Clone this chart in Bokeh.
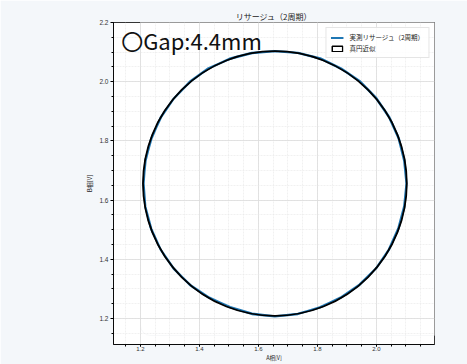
from bokeh.plotting import figure
from bokeh.models import (Range1d, SingleIntervalTicker, NumeralTickFormatter, Label,
                          BoxAnnotation, Legend, LegendItem, ColumnDataSource)
from bokeh.embed import file_html
from bokeh.resources import INLINE
import numpy as np

# ---- data ----
title_text = "リサージュ（2周期）"
x_label = "A相[V]"
y_label = "B相[V]"
gap_text = "〇Gap:4.4mm"
legend_measured = "実測リサージュ（2周期）"
legend_fit = "真円近似"

# fitted circle
fit_cx = 1.656
fit_cy = 1.656
fit_r = 0.447

# measured Lissajous: angle (deg) and radius for the two laps
angles_deg = [0, 10, 20, 30, 40, 50, 60, 70, 80, 90, 100, 110, 120, 130, 140, 150, 160, 170,
              180, 190, 200, 210, 220, 230, 240, 250, 260, 270, 280, 290, 300, 310, 320, 330,
              340, 350, 360]
r_lap1 = [0.446, 0.446, 0.447, 0.448, 0.449, 0.450, 0.449, 0.450, 0.448, 0.447, 0.447, 0.448,
          0.450, 0.449, 0.447, 0.446, 0.446, 0.445, 0.446, 0.446, 0.447, 0.447, 0.448, 0.447,
          0.445, 0.445, 0.448, 0.449, 0.448, 0.445, 0.446, 0.447, 0.447, 0.446, 0.445, 0.445,
          0.446]
r_lap2 = [0.446, 0.445, 0.446, 0.447, 0.448, 0.449, 0.448, 0.449, 0.448, 0.447, 0.448, 0.449,
          0.449, 0.448, 0.447, 0.447, 0.445, 0.446, 0.445, 0.446, 0.446, 0.447, 0.447, 0.448,
          0.446, 0.444, 0.446, 0.449, 0.447, 0.446, 0.445, 0.446, 0.447, 0.447, 0.446, 0.446,
          0.446]

x_range = (1.109, 2.197)
y_range = (1.112, 2.200)

# ---- build measured curve coordinates ----
ang = np.deg2rad(np.array(angles_deg + angles_deg[1:], dtype=float))
rad = np.array(r_lap1 + r_lap2[1:], dtype=float)
mx = fit_cx + rad * np.cos(ang)
my = fit_cy + rad * np.sin(ang)

FONT = "Noto Sans CJK JP"
TICK_FONT = "Liberation Sans"
PAGE_BG = "#f4f7fa"

p = figure(width=467, height=364, output_backend="svg", toolbar_location=None,
           x_range=Range1d(*x_range), y_range=Range1d(*y_range),
           min_border_left=113, min_border_right=33, min_border_top=22, min_border_bottom=19,
           background_fill_color="white", border_fill_color=PAGE_BG)

# card
card = BoxAnnotation(left=27, right=600, top=9, bottom=600,
                     left_units="screen", right_units="screen", top_units="screen", bottom_units="screen",
                     fill_color="white", fill_alpha=1.0, line_color="#e3e7ec", line_width=1,
                     border_radius=10, level="image", editable=False)
p.add_layout(card)

p.title.text = title_text
p.title.align = "center"
p.title.text_font = FONT
p.title.text_font_size = "8px"
p.title.text_font_style = "normal"
p.title.text_color = "#222222"
p.title.standoff = 2
p.title.offset = 0

p.outline_line_color = "black"
p.outline_line_width = 0.8

for ax in (p.xaxis[0], p.yaxis[0]):
    ax.ticker = SingleIntervalTicker(interval=0.2, num_minor_ticks=4)
    ax.formatter = NumeralTickFormatter(format="0.0")
    ax.major_label_text_font = TICK_FONT
    ax.major_label_text_font_size = "6.5px"
    ax.major_label_text_color = "#333333"
    ax.axis_label_text_font = FONT
    ax.axis_label_text_font_size = "6px"
    ax.axis_label_text_font_style = "normal"
    ax.axis_label_text_color = "#222222"
    ax.major_tick_in = 0
    ax.major_tick_out = 3
    ax.minor_tick_in = 0
    ax.minor_tick_out = 2
    ax.axis_line_color = "black"
    ax.axis_line_width = 0.8
    ax.major_tick_line_color = "black"
    ax.minor_tick_line_color = "black"
    ax.major_label_standoff = 2
    ax.axis_label_standoff = 2

p.xaxis.axis_label = x_label
p.xaxis.major_label_text_font_size = "6px"
p.xaxis.axis_label_text_font_size = "5.5px"
p.xaxis.major_tick_out = 2
p.xaxis.major_label_standoff = 0
p.xaxis.axis_label_standoff = 0
p.yaxis.axis_label = y_label

for g in (p.xgrid[0], p.ygrid[0]):
    g.ticker = SingleIntervalTicker(interval=0.2, num_minor_ticks=4)
    g.grid_line_color = "#dcdcdc"
    g.grid_line_width = 0.8
    g.minor_grid_line_color = "#e8e8e8"
    g.minor_grid_line_width = 0.6
    g.minor_grid_line_dash = "2 1"

# measured curve (blue) and fit (black); the fit is an ellipse in data units on both
# axes so it stays on the measured curve whatever the frame aspect is
src = ColumnDataSource(dict(x=mx, y=my))
r_meas = p.line("x", "y", source=src, line_color="#1f77b4", line_width=2.2)
r_fit = p.ellipse(x=[fit_cx], y=[fit_cy], width=2 * fit_r, height=2 * fit_r,
                  fill_color=None, line_color="black", line_width=1.8)
r_fit_leg = p.quad(left=[np.nan], right=[np.nan], top=[np.nan], bottom=[np.nan],
                   fill_color="white", line_color="black", line_width=1.5)

legend = Legend(items=[LegendItem(label=legend_measured, renderers=[r_meas]),
                       LegendItem(label=legend_fit, renderers=[r_fit_leg])],
                location="top_right")
legend.label_text_font = FONT
legend.label_text_font_size = "6.5px"
legend.label_text_color = "#222222"
legend.label_height = 8
legend.glyph_height = 7
legend.glyph_width = 13
legend.label_standoff = 6
legend.padding = 4
legend.spacing = 1
legend.margin = 5
legend.border_line_color = "#cccccc"
legend.border_line_width = 0.8
legend.background_fill_alpha = 0.85
p.add_layout(legend)

gap = Label(x=1.135, y=2.14, text=gap_text, text_font=FONT, text_font_size="22px",
            text_baseline="middle", text_align="left", text_color="#111111")
p.add_layout(gap)

open("out.html", "w").write(file_html(p, INLINE))
